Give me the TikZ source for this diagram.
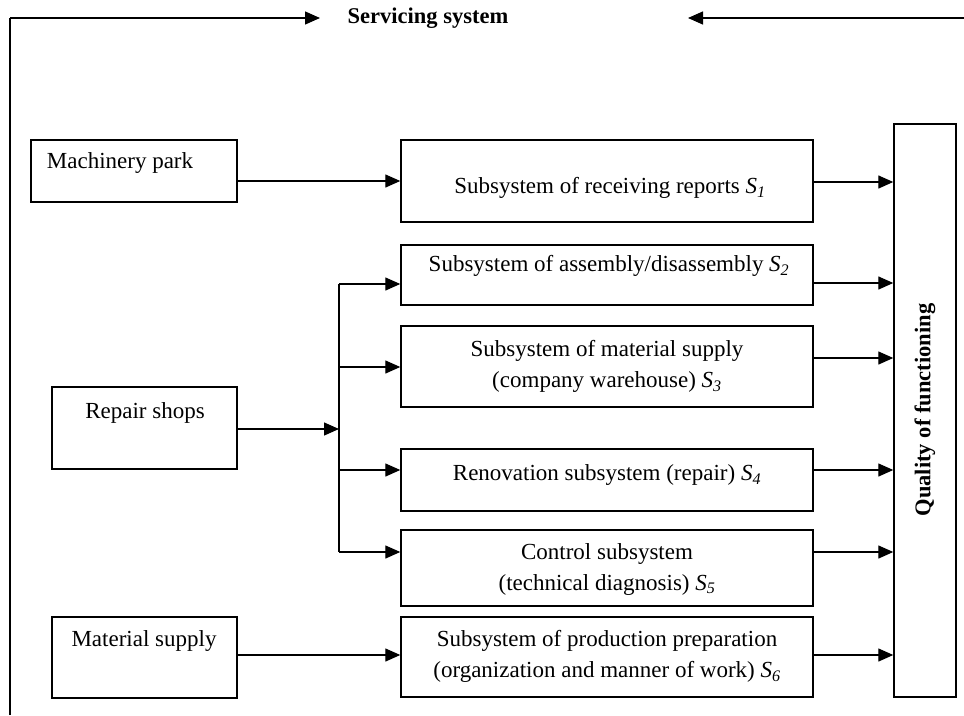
\documentclass[tikz,border=0pt]{standalone}
\usepackage{fontspec}
\setmainfont{Liberation Serif}
\usetikzlibrary{arrows.meta}
\newcommand\Ssub[1]{\textit{S}\textsubscript{\textit{#1}}}
\begin{document}
\begin{tikzpicture}[x=1pt,y=1pt,
  font=\fontsize{23}{31}\selectfont,
  box/.style={draw, line width=1.4pt, inner sep=0pt},
  txt/.style={inner sep=0pt, align=center},
  arr/.style={line width=1.3pt, -{Triangle[length=15pt,width=13pt]}},
  ln/.style={line width=1.3pt}]
\useasboundingbox (0,0) rectangle (964,-715);
% top
\node[txt, font=\fontsize{22.5}{31}\selectfont\bfseries] (serv) at (428,-18) {Servicing system};
\coordinate (tl) at (10,-18);
\coordinate (bl) at (10,-715);
\coordinate (la) at (320,-18);
\coordinate (tr) at (964,-18);
\coordinate (ra) at (688,-18);
\draw[ln] (bl) -- (tl);
\draw[arr] (tl) -- (la);
\draw[arr] (tr) -- (ra);
% left boxes
\node[box, minimum width=206, minimum height=62] (mp) at (134,-171) {};
\node[txt] at (120,-163) {Machinery park};
\node[box, minimum width=185, minimum height=82] (rs) at (144.5,-428) {};
\node[txt] at (145,-413) {Repair shops};
\node[box, minimum width=185, minimum height=81] (ms) at (144.5,-657.5) {};
\node[txt] at (144,-641) {Material supply};
% subsystem boxes
\node[box, minimum width=412, minimum height=82] (s1) at (607,-181) {};
\node[txt] at (610,-188) {Subsystem of receiving reports \Ssub{1}};
\node[box, minimum width=412, minimum height=60] (s2) at (607,-275) {};
\node[txt] at (609,-266) {Subsystem of assembly/disassembly \Ssub{2}};
\node[box, minimum width=412, minimum height=81] (s3) at (607,-366.5) {};
\node[txt] at (607,-366.5) {Subsystem of material supply\\(company warehouse) \Ssub{3}};
\node[box, minimum width=412, minimum height=62] (s4) at (607,-480) {};
\node[txt] at (607,-475) {Renovation subsystem (repair) \Ssub{4}};
\node[box, minimum width=412, minimum height=76] (s5) at (607,-568) {};
\node[txt] at (607,-569) {Control subsystem\\(technical diagnosis) \Ssub{5}};
\node[box, minimum width=412, minimum height=80] (s6) at (607,-657) {};
\node[txt] at (607,-656.5) {Subsystem of production preparation\\(organization and manner of work) \Ssub{6}};
% quality
\node[box, minimum width=62, minimum height=573] (qf) at (925,-410.5) {};
\node[txt, rotate=90, font=\fontsize{22.5}{31}\selectfont\bfseries] at (925,-410) {Quality of functioning};
% left connectors
\draw[arr] (mp.east |- s1.west) -- (s1.west);
\coordinate (j0) at (339,-429);
\coordinate (j2) at (339,-284);
\coordinate (j3) at (339,-367);
\coordinate (j4) at (339,-470);
\coordinate (j5) at (339,-552);
\draw[arr] (rs.east |- j0) -- (j0);
\draw[ln] (j2) -- (j5);
\draw[arr] (j2) -- (j2 -| s2.west);
\draw[arr] (j3) -- (j3 -| s3.west);
\draw[arr] (j4) -- (j4 -| s4.west);
\draw[arr] (j5) -- (j5 -| s5.west);
\coordinate (m6) at (300,-655);
\draw[arr] (m6 -| ms.east) -- (m6 -| s6.west);
% right connectors
\coordinate (r1) at (850,-182);
\coordinate (r2) at (850,-283);
\coordinate (r3) at (850,-358);
\coordinate (r4) at (850,-470);
\coordinate (r5) at (850,-552);
\coordinate (r6) at (850,-655);
\foreach \i in {1,...,6}{
  \draw[arr] (r\i -| s\i.east) -- (r\i -| qf.west);
}
\end{tikzpicture}
\end{document}
